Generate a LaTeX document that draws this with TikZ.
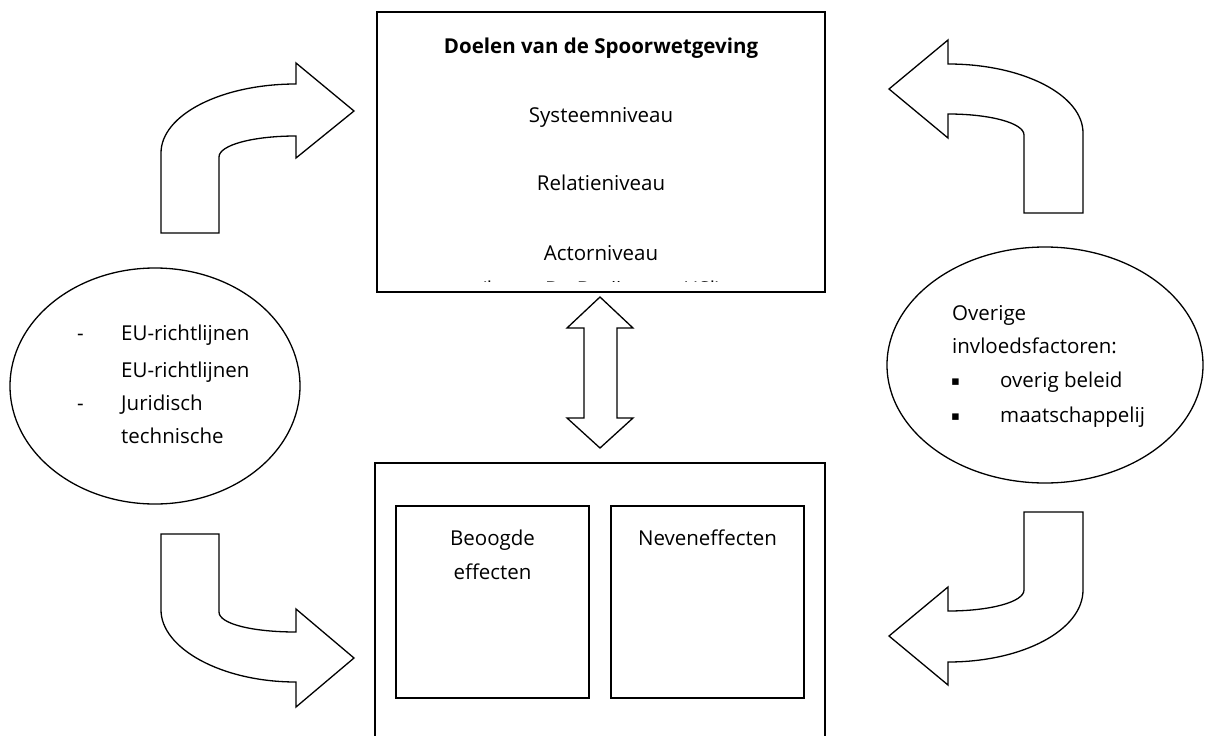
\documentclass[tikz,border=0pt]{standalone}
\usepackage{fontspec}
\setmainfont{Open Sans}
\newfontfamily\symfont{DejaVu Sans}
\usetikzlibrary{shapes.geometric}
\begin{document}
\begin{tikzpicture}[x=1pt,y=-1pt,
  box/.style={draw,line width=1.8pt,inner sep=0pt},
  blob/.style={draw,ellipse,line width=1.3pt,inner sep=0pt},
  blockarrow/.style={draw,line width=1.3pt,line join=miter,fill=white},
  txt/.style={inner sep=0pt,anchor=base,font=\fontsize{20.5}{24}\selectfont},
  ltxt/.style={txt,anchor=base west},
]
\clip (0,0) rectangle (1205,736);
\fill[white] (0,0) rectangle (1205,736);

% goals box
\node (goals) [box,minimum width=448,minimum height=280] at (601,152) {};
\node (title) [txt,font=\fontsize{20.5}{24}\selectfont\bfseries] at (601,53) {Doelen van de Spoorwetgeving};
\node (sys) [txt] at (601,122) {Systeemniveau};
\node (rel) [txt] at (601,190) {Relatieniveau};
\node (act) [txt] at (601,260) {Actorniveau};
\begin{scope}
  \clip (380,265) rectangle (822,281.5);
  \node (src) [txt] at (601,296) {(bron: De Bruijn e.a., HSl)};
\end{scope}

% effects box
\node (effects) [box,minimum width=450,minimum height=320] at (600,623) {};
\node (intended) [box,minimum width=193,minimum height=192] at (492.5,602) {};
\node (side) [box,minimum width=193,minimum height=192] at (707.5,602) {};
\node (beo) [txt] at (492.5,545) {Beoogde};
\node (eff) [txt] at (492.5,579) {effecten};
\node (nev) [txt] at (707.5,545) {Neveneffecten};

% left ellipse
\node (eu) [blob,minimum width=290,minimum height=236] at (155,386) {};
\node (d1) [ltxt] at (77,340) {-};
\node (eu1) [ltxt] at (121,340) {EU-richtlijnen};
\node (eu2) [ltxt] at (121,377) {EU-richtlijnen};
\node (d2) [ltxt] at (77,410) {-};
\node (jur) [ltxt] at (121,410) {Juridisch};
\node (tech) [ltxt] at (121,443) {technische};

% right ellipse
\node (other) [blob,minimum width=316,minimum height=236] at (1045,365) {};
\node (ov) [ltxt] at (952,320) {Overige};
\node (inv) [ltxt] at (952,353) {invloedsfactoren:};
\node (b1) [ltxt,font=\symfont\fontsize{13}{15}\selectfont] at (951,385) {▪};
\node (beleid) [ltxt] at (1000,387) {overig beleid};
\node (b2) [ltxt,font=\symfont\fontsize{13}{15}\selectfont] at (951,420) {▪};
\node (maat) [ltxt] at (1000,422) {maatschappelij};

% bent block arrows
\draw[blockarrow] (161,233) -- (161,153) .. controls (161,115) and (221,84) .. (296,84)
  -- (296,63) -- (354,111) -- (296,158) -- (296,136)
  .. controls (253,136) and (219,145) .. (219,157) -- (219,233) -- cycle;
\draw[blockarrow] (161,534) -- (161,610) .. controls (161,648) and (221,682) .. (296,682)
  -- (296,707) -- (354,658) -- (296,609) -- (296,632)
  .. controls (253,632) and (219,624) .. (219,612) -- (219,534) -- cycle;
\draw[blockarrow] (1083,213) -- (1083,133) .. controls (1083,95) and (1023,64) .. (948,64)
  -- (948,40) -- (889,89) -- (948,138) -- (948,114)
  .. controls (990,114) and (1024,123) .. (1024,135) -- (1024,213) -- cycle;
\draw[blockarrow] (1083,512) -- (1083,590) .. controls (1083,630) and (1023,662) .. (948,662)
  -- (948,685) -- (889,636) -- (948,587) -- (948,611)
  .. controls (990,611) and (1024,602) .. (1024,590) -- (1024,512) -- cycle;

% two-way block arrow between the boxes
\draw[blockarrow] (600,297) -- (633,328) -- (617,328) -- (617,418) -- (633,418)
  -- (600,448) -- (567,418) -- (584,418) -- (584,328) -- (567,328) -- cycle;
\end{tikzpicture}
\end{document}
